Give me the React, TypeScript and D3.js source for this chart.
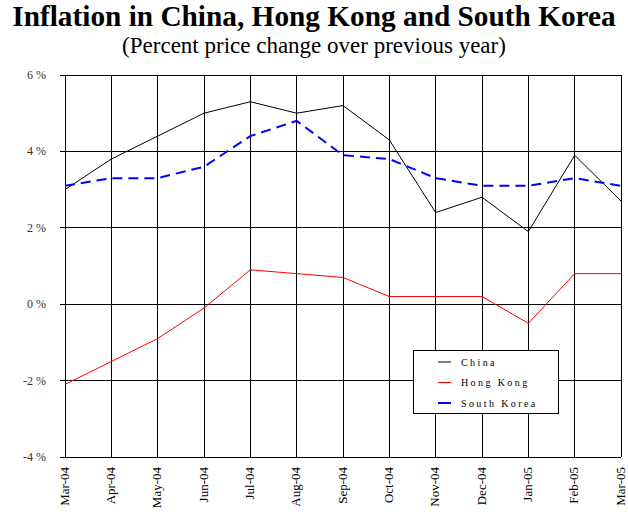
import React from "react";
import * as d3 from "d3";

const months = ["Mar-04","Apr-04","May-04","Jun-04","Jul-04","Aug-04","Sep-04","Oct-04","Nov-04","Dec-04","Jan-05","Feb-05","Mar-05"];
const china = [3.0, 3.8, 4.4, 5.0, 5.3, 5.0, 5.2, 4.3, 2.4, 2.8, 1.9, 3.9, 2.7];
const hongKong = [-2.1, -1.5, -0.9, -0.1, 0.9, 0.8, 0.7, 0.2, 0.2, 0.2, -0.5, 0.8, 0.8];
const southKorea = [3.1, 3.3, 3.3, 3.6, 4.4, 4.8, 3.9, 3.8, 3.3, 3.1, 3.1, 3.3, 3.1];
const yTicks = [-4, -2, 0, 2, 4, 6];

const W = 628, H = 517;
const L = 65, R = 621, T = 75, B = 457;
const font = "'Liberation Serif', 'Times New Roman', serif";

export default function App() {
  const x = d3.scalePoint<string>().domain(months).range([L, R]);
  const y = d3.scaleLinear().domain([-4, 6]).range([B, T]);
  const line = d3.line<number>().x((_, i) => x(months[i])!).y((d) => y(d));

  const series = [
    { name: "China", data: china, color: "#000", width: 1, dash: undefined as string | undefined },
    { name: "Hong Kong", data: hongKong, color: "#ff0000", width: 1, dash: undefined },
    { name: "South Korea", data: southKorea, color: "#0000ff", width: 2, dash: "10,6" },
  ];

  const lgX = 413, lgY = 350, lgW = 145, lgH = 63;

  return (
    <svg width={W} height={H} style={{ position: "absolute", left: 0, top: 0 }}>
      <rect width={W} height={H} fill="#fff" />
      <text x={314} y={26} textAnchor="middle" fontFamily={font} fontWeight="bold" fontSize={29.3}>
        Inflation in China, Hong Kong and South Korea
      </text>
      <text x={314} y={53} textAnchor="middle" fontFamily={font} fontSize={23}>
        (Percent price change over previous year)
      </text>
      {/* horizontal grid */}
      {yTicks.map((t) => (
        <g key={t}>
          <line x1={L - 5} x2={R} y1={y(t)} y2={y(t)} stroke="#000" strokeWidth={1} shapeRendering="crispEdges" />
          <text x={46} y={y(t) + 4} textAnchor="end" fontFamily={font} fontSize={12} fill="#333">
            {t + " %"}
          </text>
        </g>
      ))}
      {/* vertical grid */}
      {months.map((m) => (
        <g key={m}>
          <line x1={x(m)} x2={x(m)} y1={T} y2={B} stroke="#000" strokeWidth={1} shapeRendering="crispEdges" />
          <text
            transform={`translate(${x(m)! + 3.5},${467}) rotate(-90)`}
            textAnchor="end"
            fontFamily={font}
            fontSize={13}
          >
            {m}
          </text>
        </g>
      ))}
      {series.map((s) => (
        <path key={s.name} d={line(s.data)!} fill="none" stroke={s.color} strokeWidth={s.width} strokeDasharray={s.dash} />
      ))}
      {/* legend */}
      <rect x={lgX} y={lgY} width={lgW} height={lgH} fill="#fff" stroke="#000" strokeWidth={1} shapeRendering="crispEdges" />
      {series.map((s, i) => {
        const ly = lgY + 12 + i * 20.5;
        return (
          <g key={s.name}>
            <line x1={438} x2={451} y1={ly} y2={ly} stroke={s.color} strokeWidth={s.width} />
            <text x={461} y={ly + 3.5} fontFamily={font} fontSize={10} letterSpacing={2.4}>
              {s.name}
            </text>
          </g>
        );
      })}
    </svg>
  );
}
